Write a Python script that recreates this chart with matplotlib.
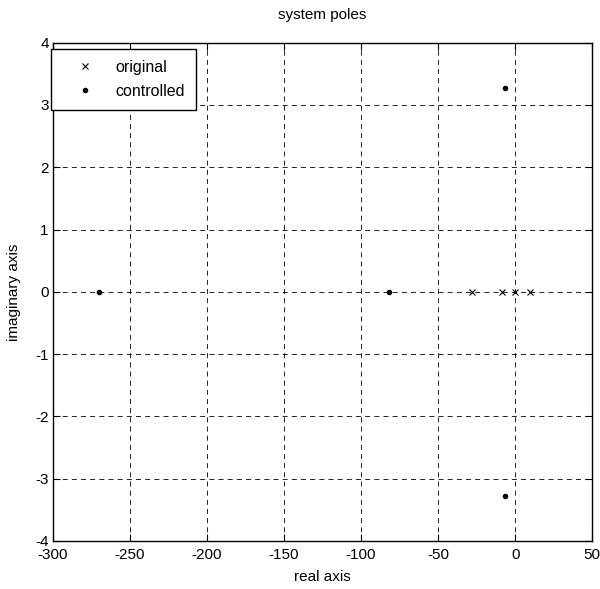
import matplotlib
matplotlib.use("Agg")
import matplotlib.pyplot as plt
import numpy as np

plt.rcParams['font.family'] = ['Liberation Sans', 'DejaVu Sans']

# data
original_real = [-27.7, -8.6, 0.0, 9.7]
original_imag = [0.0, 0.0, 0.0, 0.0]
controlled_real = [-270.3, -81.6, -6.9, -6.9]
controlled_imag = [0.0, 0.0, 3.27, -3.27]
xticks = [-300, -250, -200, -150, -100, -50, 0, 50]
yticks = [-4, -3, -2, -1, 0, 1, 2, 3, 4]

fig = plt.figure(figsize=(6.0, 5.89), dpi=100)
ax = fig.add_axes([0.088, 0.0815, 0.899, 0.846])

ax.plot(original_real, original_imag, 'x', color='black', markersize=4,
        markeredgewidth=0.8, label='original')
ax.plot(controlled_real, controlled_imag, '.', color='black', markersize=6,
        label='controlled')

ax.set_xlim(-300, 50)
ax.set_ylim(-4, 4)
ax.set_xticks(xticks)
ax.set_yticks(yticks)
ax.set_xticklabels([str(t) for t in xticks])
ax.set_yticklabels([str(t) for t in yticks])
ax.grid(True, color='black', linestyle=(0, (6, 5)), linewidth=0.6)
ax.tick_params(direction='in', top=True, right=True, length=5, width=0.8,
               labelsize=11, pad=3, color='black')
ax.tick_params(axis='x', pad=5)
for s in ax.spines.values():
    s.set_linewidth(1.0)
    s.set_color('black')

ax.set_title('system poles', fontsize=11, pad=17)
ax.set_xlabel('real axis', fontsize=11, labelpad=6)
ax.set_ylabel('imaginary axis', fontsize=11, labelpad=10)

leg = ax.legend(loc='upper left', bbox_to_anchor=(-0.003, 0.988), fontsize=11.5,
                frameon=True, fancybox=False, edgecolor='black',
                borderpad=0.7, handlelength=2.8, handletextpad=0.5,
                labelspacing=0.55, borderaxespad=0)
leg.get_frame().set_linewidth(1.0)
leg.get_frame().set_alpha(1)

fig.savefig('out.png', dpi=100)
